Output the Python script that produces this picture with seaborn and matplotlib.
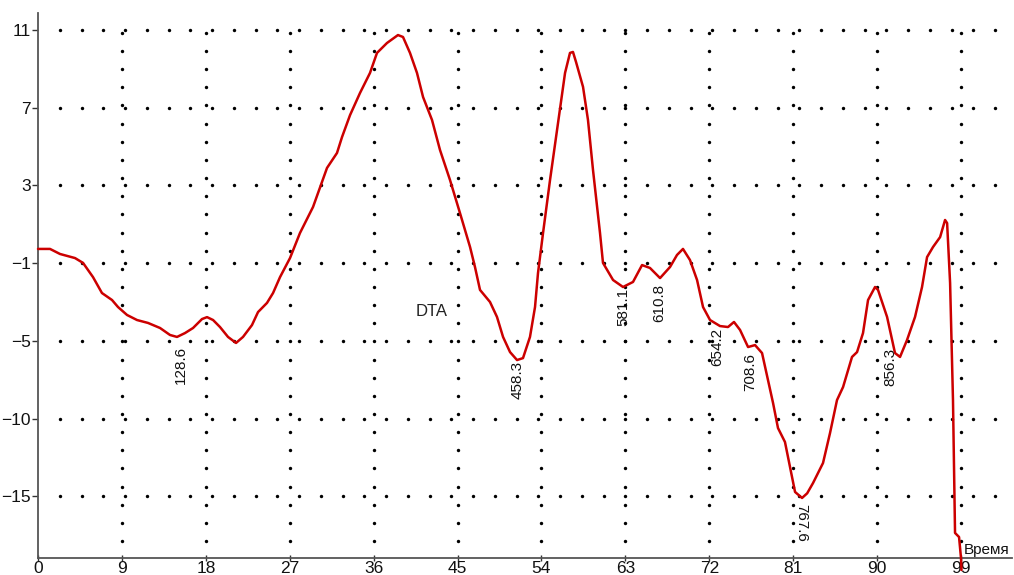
import numpy as np
import pandas as pd
import matplotlib
matplotlib.use("Agg")
import matplotlib.pyplot as plt
import seaborn as sns

# DTA signal over time
time = [0.00, 1.29, 2.36, 3.11, 3.97, 4.83, 5.90, 6.86, 7.94, 8.58, 9.55, 10.62,
        11.80, 13.09, 14.16, 14.91, 15.77, 16.63, 17.59, 18.13, 18.78, 19.52,
        20.38, 21.24, 21.99, 22.95, 23.60, 24.56, 25.21, 25.96, 27.03, 28.10,
        29.50, 31.00, 32.07, 32.61, 33.47, 34.54, 35.61, 36.36, 37.43, 38.61,
        39.15, 39.90, 40.65, 41.30, 42.26, 43.12, 44.19, 45.26, 46.34, 46.87,
        47.41, 48.48, 49.23, 49.88, 50.63, 51.38, 52.02, 52.77, 53.31, 53.63,
        54.17, 54.92, 55.67, 56.53, 57.06, 57.38, 57.71, 58.46, 58.99, 59.53,
        60.28, 60.60, 61.68, 62.75, 63.82, 64.79, 65.64, 66.72, 67.79, 68.54,
        69.18, 69.93, 70.69, 71.33, 72.08, 73.15, 74.01, 74.65, 75.30, 76.16,
        76.91, 77.66, 78.30, 78.84, 79.37, 80.12, 80.66, 81.20, 81.95, 82.50,
        83.13, 84.20, 84.95, 85.70, 86.35, 87.31, 87.85, 88.49, 89.03, 89.78,
        90.10, 91.07, 91.92, 92.46, 93.21, 94.07, 94.82, 95.36, 96.00, 96.76,
        97.29, 97.51, 97.83, 98.14, 98.36, 98.79, 99.00, 99.05]
dta = [-0.27, -0.27, -0.53, -0.63, -0.74, -0.99, -1.72, -2.54, -2.90, -3.26,
       -3.67, -3.93, -4.08, -4.34, -4.70, -4.80, -4.60, -4.34, -3.88, -3.78,
       -3.93, -4.29, -4.80, -5.11, -4.80, -4.19, -3.52, -3.05, -2.54, -1.72,
       -0.74, 0.55, 1.89, 3.90, 4.67, 5.49, 6.62, 7.76, 8.79, 9.82, 10.33,
       10.74, 10.64, 9.82, 8.79, 7.55, 6.37, 4.82, 3.28, 1.58, -0.17, -1.20,
       -2.38, -3.00, -3.77, -4.80, -5.58, -5.99, -5.89, -4.80, -3.26, -1.51,
       0.55, 3.28, 5.85, 8.79, 9.82, 9.87, 9.35, 8.07, 6.37, 3.79, 0.55, -0.99,
       -1.87, -2.23, -1.97, -1.10, -1.25, -1.77, -1.20, -0.58, -0.27, -0.84,
       -1.87, -3.26, -3.93, -4.24, -4.29, -4.03, -4.44, -5.32, -5.22, -5.63,
       -7.02, -8.20, -9.49, -10.21, -11.50, -12.78, -13.09, -12.85, -12.32,
       -11.29, -9.75, -8.05, -7.38, -5.83, -5.58, -4.60, -2.90, -2.23, -2.38,
       -3.77, -5.63, -5.83, -4.96, -3.77, -2.23, -0.69, -0.17, 0.34, 1.22, 1.06,
       -2.02, -8.05, -14.89, -15.10, -16.18, -16.80]

# Axis ticks
x_ticks = [0, 9, 18, 27, 36, 45, 54, 63, 72, 81, 90, 99]
y_tick_pos = [11, 7, 3, -1, -5, -9, -13]
y_tick_labels = ["11", "7", "3", "\u22121", "\u22125", "\u221210", "\u221215"]

# Peak temperature annotations (text, time, signal, rotation)
peak_labels = ["128.6", "458.3", "581.1", "610.8", "654.2", "708.6", "767.6", "856.3"]
peak_x = [15.34, 51.49, 62.75, 66.61, 72.83, 76.37, 81.84, 91.47]
peak_y = [-6.25, -7.02, -3.26, -3.05, -5.30, -6.62, -14.38, -6.36]
peak_rot = [90, 90, 90, 90, 90, 90, -90, 90]

sns.set_style("white")
plt.rcParams["font.family"] = ["Liberation Sans", "DejaVu Sans"]

fig = plt.figure(figsize=(10.14, 5.75), dpi=100)
ax = fig.add_axes([38 / 1014, 17 / 575, (1012 - 38) / 1014, (558 - 13) / 575])

x_max = 104.47
y_min, y_max = -16.18, 11.875

# Dotted grid: rows of dots along each y tick, columns along each x tick
row_x = np.arange(7 / 3, x_max, 7 / 3)
col_y = -15.31 + 0.9344 * np.arange(0, 29)
gx, gy = [], []
for yv in y_tick_pos:
    gx.extend(row_x)
    gy.extend([yv] * len(row_x))
for xv in x_ticks[1:]:
    gx.extend([xv] * len(col_y))
    gy.extend(col_y)
sns.scatterplot(x=gx, y=gy, ax=ax, s=6, color="black", linewidth=0, zorder=1)

df = pd.DataFrame({"t": time, "dta": dta})
sns.lineplot(data=df, x="t", y="dta", ax=ax, sort=False, color="#cc0000",
             linewidth=1.8, zorder=3, clip_on=False)

for lab, px, py, rot in zip(peak_labels, peak_x, peak_y, peak_rot):
    ax.text(px, py, lab, rotation=rot, ha="center", va="center",
            fontsize=11, color="#111111", zorder=4)

ax.text(42.26, -3.47, "DTA", ha="center", va="center", fontsize=12, color="#222222")
ax.text(99.25, y_min + 0.05, "Время", ha="left", va="bottom", fontsize=11, color="#111111")

ax.set_xlim(0, x_max)
ax.set_ylim(y_min, y_max)
ax.set_xticks(x_ticks)
ax.set_xticklabels([str(v) for v in x_ticks])
ax.set_yticks(y_tick_pos)
ax.set_yticklabels(y_tick_labels)
ax.set_xlabel("")
ax.set_ylabel("")

for side in ["top", "right"]:
    ax.spines[side].set_visible(False)
for side in ["left", "bottom"]:
    ax.spines[side].set_color("#555555")
    ax.spines[side].set_linewidth(1.3)

ax.tick_params(axis="y", direction="out", length=4, width=1, color="#333333",
               pad=1, labelsize=12.5, labelcolor="#111111", left=True)
ax.tick_params(axis="x", direction="inout", length=5, width=1, color="#333333",
               pad=0, labelsize=12.5, labelcolor="#111111", bottom=True)

fig.savefig("out.png", dpi=100)
